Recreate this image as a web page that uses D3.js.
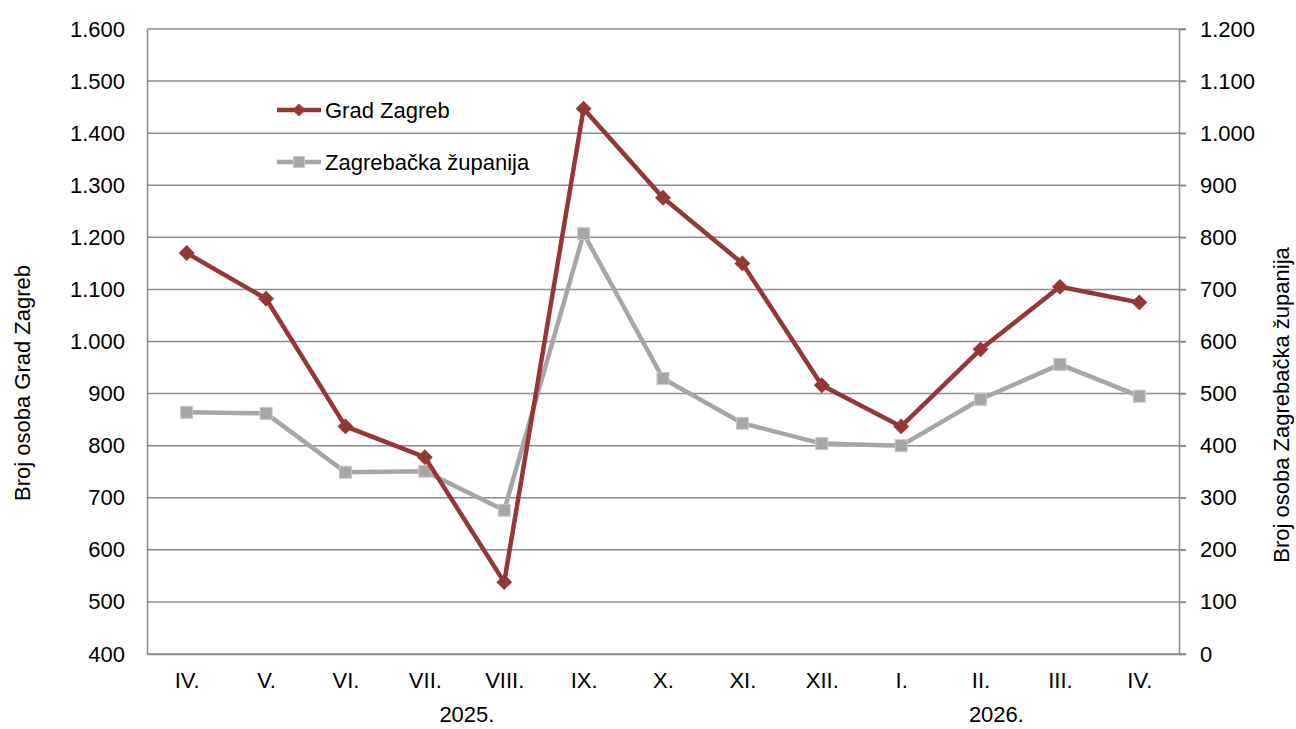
<!DOCTYPE html>
<html>
<head>
<meta charset="utf-8">
<script src="https://cdn.jsdelivr.net/npm/d3@7"></script>
<style>
  body { margin: 0; background: #fff; }
  #chart-wrapper { width: 1296px; height: 729px; }
</style>
</head>
<body>
<div id="chart-wrapper"></div>
<script>
// Data
const months = ["IV.","V.","VI.","VII.","VIII.","IX.","X.","XI.","XII.","I.","II.","III.","IV."]
const gradZagreb = [1170, 1082, 837, 778, 538, 1447, 1276, 1150, 916, 837, 985, 1105, 1075]
const zagrebackaZupanija = [464, 462, 349, 351, 276, 807, 529, 443, 404, 400, 489, 556, 495]
const leftTicks = [400, 500, 600, 700, 800, 900, 1000, 1100, 1200, 1300, 1400, 1500, 1600]
const rightTicks = [0, 100, 200, 300, 400, 500, 600, 700, 800, 900, 1000, 1100, 1200]
const years = ["2025.", "2026."]
// position of year label, in category index units
const yearAt = [3.53, 10.2]

// Config
const config = {
  red: "#953735",
  gray: "#a6a6a6",
  grid: "#8c8c8c",
  font: "Liberation Sans, Arial, sans-serif",
  fontSize: 22
}

const width = 1296
const height = 729
const margin = {top: 29, right: 117, bottom: 75, left: 147}

const locale = d3.formatLocale({decimal: ",", thousands: ".", grouping: [3], currency: ["", ""]})
const fmt = locale.format(",d")

const svg = d3.select("#chart-wrapper")
  .append("svg")
  .attr("width", width)
  .attr("height", height)
  .style("font-family", config.font)

const idx = d3.range(months.length)
const x = d3.scalePoint().domain(idx).range([margin.left, width - margin.right]).padding(0.5)
const step = x.step()
const yL = d3.scaleLinear().domain([400, 1600]).range([height - margin.bottom, margin.top])
const yR = d3.scaleLinear().domain([0, 1200]).range([height - margin.bottom, margin.top])

// Gridlines
svg.append("g")
  .selectAll("line")
  .data(leftTicks)
  .join("line")
  .attr("x1", margin.left)
  .attr("x2", width - margin.right + 7)
  .attr("y1", d => yL(d))
  .attr("y2", d => yL(d))
  .attr("stroke", config.grid)
  .attr("stroke-width", 1.5)

// Left axis
const leftAxis = svg.append("g")
  .attr("transform", `translate(${margin.left},0)`)
  .call(d3.axisLeft(yL).tickValues(leftTicks).tickFormat(fmt).tickSize(0).tickPadding(22))
leftAxis.select(".domain").attr("stroke", config.grid).attr("stroke-width", 1.5)
leftAxis.selectAll("text")
  .attr("font-size", config.fontSize)
  .attr("font-family", config.font)
  .attr("fill", "#000")

// Right axis
const rightAxis = svg.append("g")
  .attr("transform", `translate(${width - margin.right},0)`)
  .call(d3.axisRight(yR).tickValues(rightTicks).tickFormat(fmt).tickSize(7).tickPadding(14))
rightAxis.select(".domain").attr("stroke", config.grid).attr("stroke-width", 1.5)
rightAxis.selectAll("line").attr("stroke", config.grid).attr("stroke-width", 1.5)
rightAxis.selectAll("text")
  .attr("font-size", config.fontSize)
  .attr("font-family", config.font)
  .attr("fill", "#000")

// Bottom axis
const bottomAxis = svg.append("g")
  .attr("transform", `translate(0,${height - margin.bottom})`)
  .call(d3.axisBottom(x).tickFormat(i => months[i]).tickSize(0).tickPadding(18))
bottomAxis.select(".domain").attr("stroke", config.grid).attr("stroke-width", 1.5)
bottomAxis.selectAll("text")
  .attr("font-size", config.fontSize)
  .attr("font-family", config.font)
  .attr("fill", "#000")

// Year labels
svg.append("g")
  .selectAll("text")
  .data(years)
  .join("text")
  .attr("x", (d, i) => x(0) + yearAt[i] * step)
  .attr("y", height - 7)
  .attr("text-anchor", "middle")
  .attr("font-size", config.fontSize)
  .text(d => d)

// Axis titles
svg.append("text")
  .attr("transform", `translate(30,383) rotate(-90)`)
  .attr("text-anchor", "middle")
  .attr("font-size", config.fontSize)
  .text("Broj osoba Grad Zagreb")
svg.append("text")
  .attr("transform", `translate(1289,405) rotate(-90)`)
  .attr("text-anchor", "middle")
  .attr("font-size", config.fontSize)
  .text("Broj osoba Zagrebačka županija")

// Lines
const lineL = d3.line().x((d, i) => x(i)).y(d => yL(d))
const lineR = d3.line().x((d, i) => x(i)).y(d => yR(d))

svg.append("path")
  .datum(zagrebackaZupanija)
  .attr("d", lineR)
  .attr("fill", "none")
  .attr("stroke", config.gray)
  .attr("stroke-width", 4.5)
  .attr("stroke-linejoin", "round")

svg.append("g")
  .selectAll("rect")
  .data(zagrebackaZupanija)
  .join("rect")
  .attr("x", (d, i) => x(i) - 6)
  .attr("y", d => yR(d) - 6)
  .attr("width", 12)
  .attr("height", 12)
  .attr("fill", config.gray)
  .attr("stroke", "#c8c8c8")
  .attr("stroke-width", 1)

svg.append("path")
  .datum(gradZagreb)
  .attr("d", lineL)
  .attr("fill", "none")
  .attr("stroke", config.red)
  .attr("stroke-width", 4.5)
  .attr("stroke-linejoin", "round")

const diamond = d3.symbol().type(d3.symbolDiamond2).size(160)
svg.append("g")
  .selectAll("path")
  .data(gradZagreb)
  .join("path")
  .attr("d", diamond)
  .attr("transform", (d, i) => `translate(${x(i)},${yL(d)})`)
  .attr("fill", config.red)

// Legend
const legend = svg.append("g").attr("transform", "translate(277,110)")
const legendItems = [
  {name: "Grad Zagreb", color: config.red, shape: "diamond"},
  {name: "Zagrebačka županija", color: config.gray, shape: "square"}
]
legendItems.forEach((item, i) => {
  const g = legend.append("g").attr("transform", `translate(0,${i * 52})`)
  g.append("line")
    .attr("x1", 0).attr("x2", 44)
    .attr("stroke", item.color).attr("stroke-width", 4.5)
  if (item.shape == "diamond") {
    g.append("path").attr("d", d3.symbol().type(d3.symbolDiamond2).size(110)).attr("transform", "translate(22,0)").attr("fill", item.color)
  } else {
    g.append("rect").attr("x", 16.5).attr("y", -5.5).attr("width", 11).attr("height", 11)
      .attr("fill", item.color).attr("stroke", "#c8c8c8")
  }
  g.append("text")
    .attr("x", 48)
    .attr("dy", "0.35em")
    .attr("font-size", config.fontSize)
    .text(item.name)
})
</script>
</body>
</html>
